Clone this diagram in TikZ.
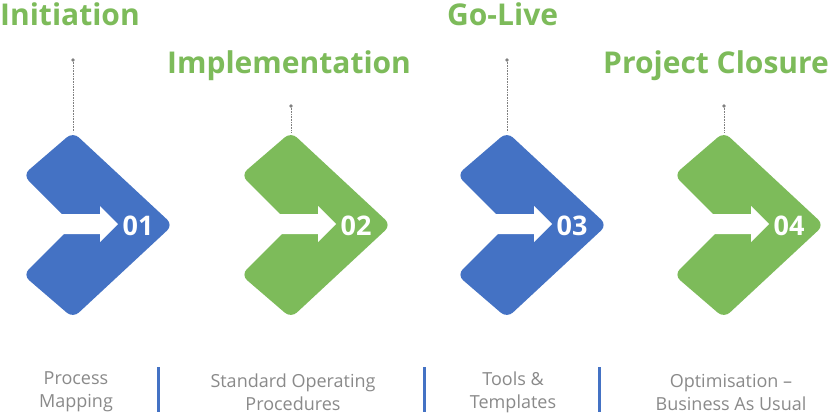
\documentclass[tikz,border=0pt]{standalone}
\usepackage{fontspec}
\setmainfont{Open Sans}
\definecolor{cblue}{HTML}{4472C4}
\definecolor{cgreen}{HTML}{7DBB5A}
\definecolor{cgray}{HTML}{8A8A8A}
\begin{document}
\begin{tikzpicture}[x=1pt,y=-1pt,
  title/.style={font=\fontsize{30}{30}\selectfont\bfseries,text=cgreen,inner sep=0},
  num/.style={font=\fontsize{27}{27}\selectfont\bfseries,text=white,inner sep=0},
  desc/.style={font=\fontsize{18}{23}\selectfont,text=cgray,align=center,inner sep=0},
  sep/.style={cblue,line width=3pt},
  lead/.style={densely dotted,gray,line width=0.6pt}]
\useasboundingbox (0,0) rectangle (840,415);
\fill[white] (0,0) rectangle (840,415);
\newcommand{\chev}[5]{% x, color, num, dot y, name
  \fill[#2,rounded corners=8pt] (#1,132) -- (#1+100,225) -- (#1,318) -- (#1-50,275) -- (#1,225) -- (#1-50,175) -- cycle;
  \fill[white] (#1-12,214) -- (#1+27,214) -- (#1+27,206) -- (#1+45,224) -- (#1+27,242) -- (#1+27,234) -- (#1-12,234) -- cycle;
  \node[num] (n#5) at (#1+65,226) {#3};
  \fill[gray] (#1,#4) circle (1.8pt);
  \coordinate (d#5) at (#1,#4);
  \coordinate (t#5) at (#1,132);
  \draw[lead] (d#5) -- (t#5);
}
\chev{73}{cblue}{01}{60}{a}
\chev{291}{cgreen}{02}{106}{b}
\chev{507}{cblue}{03}{60}{c}
\chev{724}{cgreen}{04}{106}{d}
\node[title,anchor=west] (ta) at (0,14) {Initiation};
\node[title,anchor=west] (tb) at (167,66) {Implementation};
\node[title,anchor=west] (tc) at (447,14) {Go-Live};
\node[title,anchor=west] (td) at (603,66) {Project Closure};
\node[desc] (pa) at (76,392) {Process\\Mapping};
\node[desc] (pb) at (293,392) {Standard Operating\\Procedures};
\node[desc] (pc) at (513,392) {Tools \&\\Templates};
\node[desc] (pd) at (731,392) {Optimisation –\\Business As Usual};
\coordinate (s1) at (158,367); \coordinate (e1) at (158,412);
\coordinate (s2) at (424,367); \coordinate (e2) at (424,412);
\coordinate (s3) at (599,367); \coordinate (e3) at (599,412);
\draw[sep] (s1) -- (e1); \draw[sep] (s2) -- (e2); \draw[sep] (s3) -- (e3);
\end{tikzpicture}
\end{document}
